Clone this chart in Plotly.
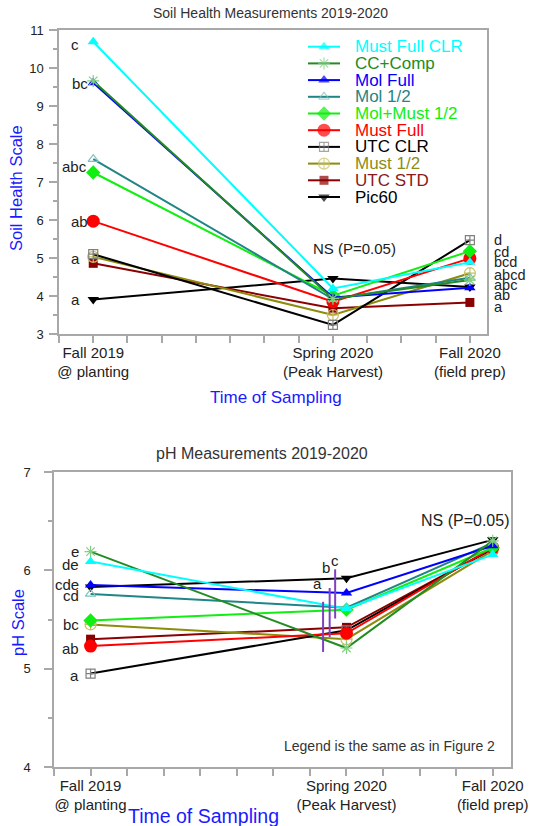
import plotly.graph_objects as go

W, H = 537, 826

# ---------------- data ----------------
months = [0, 7, 11]
time_ticks = [-1, 0, 1, 2, 3, 4, 5, 6, 7, 8, 9, 10, 11]
time_labels = {0: "Fall 2019<br>@ planting", 7: "Spring 2020<br>(Peak Harvest)", 11: "Fall 2020<br>(field prep)"}

series = ["Must Full CLR", "CC+Comp", "Mol Full", "Mol 1/2", "Mol+Must 1/2",
          "Must Full", "UTC CLR", "Must 1/2", "UTC STD", "Pic60"]

soil_health = {
    "Must Full CLR": [10.69, 4.20, 4.89],
    "CC+Comp":       [9.66, 3.93, 4.42],
    "Mol Full":      [9.61, 3.96, 4.22],
    "Mol 1/2":       [7.60, 3.92, 4.48],
    "Mol+Must 1/2":  [7.25, 4.01, 5.18],
    "Must Full":     [5.97, 3.85, 4.99],
    "UTC CLR":       [5.10, 3.24, 5.47],
    "Must 1/2":      [5.03, 3.50, 4.60],
    "UTC STD":       [4.86, 3.68, 3.83],
    "Pic60":         [3.91, 4.46, 4.24],
}

ph = {
    "Must Full CLR": [6.09, 5.61, 6.16],
    "CC+Comp":       [6.19, 5.21, 6.30],
    "Mol Full":      [5.85, 5.77, 6.25],
    "Mol 1/2":       [5.76, 5.62, 6.28],
    "Mol+Must 1/2":  [5.49, 5.60, 6.23],
    "Must Full":     [5.23, 5.36, 6.23],
    "UTC CLR":       [4.95, 5.39, 6.22],
    "Must 1/2":      [5.45, 5.30, 6.20],
    "UTC STD":       [5.30, 5.42, 6.22],
    "Pic60":         [5.83, 5.92, 6.31],
}

# significance letters
sh_left_letters = ["c", "bc", "abc", "ab", "a", "a"]
sh_left_x = [-0.52, -0.38, -0.55, -0.41, -0.52, -0.52]
sh_left_y = [10.63, 9.60, 7.42, 5.97, 5.00, 3.90]
sh_right_letters = ["d", "cd", "bcd", "abcd", "abc", "ab", "a"]
sh_right_y = [5.47, 5.17, 4.90, 4.55, 4.29, 4.03, 3.72]

ph_left_letters = ["e", "de", "cde", "cd", "bc", "ab", "a"]
ph_left_y = [6.19, 6.06, 5.86, 5.74, 5.45, 5.21, 4.93]
ph_spring_letters = ["a", "b", "c"]
ph_spring_x = [6.22, 6.44, 6.69]
ph_spring_y = [5.87, 6.03, 6.10]
ph_bar_x = [6.36, 6.54, 6.69]
ph_bar_lo = [5.17, 5.32, 5.51]
ph_bar_hi = [5.68, 5.82, 6.01]

# ---------------- styles ----------------
style = {
    "Must Full CLR": dict(line="#00FFFF", sym="triangle-up", mc="#00FFFF", ms=10, text="#00FFFF"),
    "CC+Comp":       dict(line="#238B23", sym="asterisk-open", mc="#80D080", ms=10, text="#238B23"),
    "Mol Full":      dict(line="#0000FF", sym="triangle-up", mc="#0000FF", ms=10, text="#0000FF"),
    "Mol 1/2":       dict(line="#1F8585", sym="triangle-up-open", mc="#80C0C0", ms=9, text="#1F8585"),
    "Mol+Must 1/2":  dict(line="#11EE11", sym="diamond", mc="#11EE11", ms=11, text="#11EE11"),
    "Must Full":     dict(line="#FF0000", sym="circle", mc="#FF0000", ms=13, text="#FF0000"),
    "UTC CLR":       dict(line="#000000", sym="square-cross-open", mc="#808080", ms=9, text="#000000"),
    "Must 1/2":      dict(line="#8C8C0A", sym="circle-cross-open", mc="#C8C060", ms=11, text="#8C8C1A"),
    "UTC STD":       dict(line="#8B0000", sym="square", mc="#8B0000", ms=9, text="#8B1A1A"),
    "Pic60":         dict(line="#000000", sym="triangle-down", mc="#000000", ms=10, text="#000000"),
}

FONT = "Liberation Sans, Arial, sans-serif"
AXC = "#A8A8A8"
BLUE = "#1A1AFF"

fig = go.Figure()

def add_series(data, xa, ya):
    for name in reversed(series):
        s = style[name]
        open_sym = s["sym"].endswith("open")
        fig.add_trace(go.Scatter(
            x=months, y=data[name], xaxis=xa, yaxis=ya, mode="lines+markers",
            name=name, showlegend=False, cliponaxis=False,
            line=dict(color=s["line"], width=2),
            marker=dict(symbol=s["sym"], size=s["ms"], color=s["mc"],
                        line=dict(color=s["mc"], width=1.2 if open_sym else 0)),
        ))

add_series(soil_health, "x", "y")
add_series(ph, "x2", "y2")

# legend drawn with an overlay pixel axis (x3/y3)
leg_y0, leg_dy = 46.7, 16.7
leg_x = [308, 324, 340]
for i, name in enumerate(series):
    s = style[name]
    ry = leg_y0 + leg_dy * i
    open_sym = s["sym"].endswith("open")
    fig.add_trace(go.Scatter(
        x=leg_x, y=[ry] * 3, xaxis="x3", yaxis="y3", mode="lines+markers",
        showlegend=False, cliponaxis=False, hoverinfo="skip",
        line=dict(color=s["line"], width=2),
        marker=dict(symbol=s["sym"], size=[0, s["ms"], 0], color=s["mc"],
                    line=dict(color=s["mc"], width=1.2 if open_sym else 0)),
    ))

annotations = []
for i, name in enumerate(series):
    annotations.append(dict(x=353, y=leg_y0 + leg_dy * i, xref="x3", yref="y3",
                            text=name, showarrow=False, xanchor="left", yanchor="middle",
                            font=dict(family=FONT, size=17, color=style[name]["text"])))

def txt(x, y, t, xref, yref, size=15, color="#222222", xanchor="center", angle=0):
    annotations.append(dict(x=x, y=y, xref=xref, yref=yref, text=t, showarrow=False,
                            xanchor=xanchor, yanchor="middle", textangle=angle,
                            font=dict(family=FONT, size=size, color=color)))

# titles and axis titles (pixel overlay)
txt(270, 13, "Soil Health Measurements 2019-2020", "x3", "y3", size=14, color="#333333")
txt(16, 188, "Soil Health Scale", "x3", "y3", size=16.5, color=BLUE, angle=-90)
txt(276, 397, "Time of Sampling", "x3", "y3", size=17, color=BLUE)
txt(262, 453, "pH Measurements 2019-2020", "x3", "y3", size=16, color="#333333")
txt(18, 623, "pH Scale", "x3", "y3", size=16.5, color=BLUE, angle=-90)
txt(203, 816, "Time of Sampling", "x3", "y3", size=19.5, color=BLUE)

# significance letters
for t, x, y in zip(sh_left_letters, sh_left_x, sh_left_y):
    txt(x, y, t, "x", "y")
for t, y in zip(sh_right_letters, sh_right_y):
    txt(1.012, y, t, "x domain", "y", size=14.5, xanchor="left")
txt(7.64, 5.24, "NS (P=0.05)", "x", "y")

for t, y in zip(ph_left_letters, ph_left_y):
    txt(-0.25, y, t, "x2", "y2", xanchor="right")
for t, x, y in zip(ph_spring_letters, ph_spring_x, ph_spring_y):
    txt(x, y, t, "x2", "y2")
txt(10.23, 6.51, "NS (P=0.05)", "x2", "y2", size=16)
txt(8.19, 4.21, "Legend is the same as in Figure 2", "x2", "y2", size=14, color="#333333")

shapes = []
for x, lo, hi in zip(ph_bar_x, ph_bar_lo, ph_bar_hi):
    shapes.append(dict(type="line", x0=x, x1=x, y0=lo, y1=hi, xref="x2", yref="y2",
                       line=dict(color="#8040C0", width=2)))

tick_text = [time_labels.get(v, "") for v in time_ticks]

common_x = dict(range=[-1, 11.5], tickmode="array", tickvals=time_ticks, ticktext=tick_text,
                ticks="outside", ticklen=7, tickcolor=AXC, tickwidth=1.5,
                showline=True, linecolor=AXC, linewidth=1.5, mirror=True,
                showgrid=False, zeroline=False, fixedrange=True, automargin=False,
                ticklabelstandoff=-3,
                tickfont=dict(family=FONT, size=15, color="#222222"))
common_y = dict(ticks="outside", ticklen=8, tickcolor=AXC, tickwidth=1.5,
                showline=True, linecolor=AXC, linewidth=1.5, mirror=True,
                showgrid=False, zeroline=False, fixedrange=True, dtick=1, automargin=False,
                minor=dict(dtick=0.5, ticks="outside", ticklen=4, tickcolor=AXC, tickwidth=1.5),
                tickfont=dict(family=FONT, size=13, color="#222222"))

fig.update_layout(
    width=W, height=H, margin=dict(l=0, r=0, t=0, b=0, pad=0, autoexpand=False),
    paper_bgcolor="white", plot_bgcolor="rgba(0,0,0,0)", showlegend=False,
    xaxis=dict(domain=[59 / W, 487 / W], anchor="y", **common_x),
    yaxis=dict(domain=[1 - 334 / H, 1 - 30 / H], anchor="x", range=[3, 11],
               ticklabelstandoff=3, **common_y),
    xaxis2=dict(domain=[54 / W, 511 / W], anchor="y2", **common_x),
    yaxis2=dict(domain=[1 - 767 / H, 1 - 472 / H], anchor="x2", range=[4, 7],
                ticklabelstandoff=11, **common_y),
    xaxis3=dict(domain=[0, 1], range=[0, W], anchor="y3", visible=False, fixedrange=True),
    yaxis3=dict(domain=[0, 1], range=[H, 0], anchor="x3", visible=False, fixedrange=True),
    annotations=annotations, shapes=shapes,
)

fig.write_html("out.html", config={"displayModeBar": False},
               post_script="document.body.style.margin='0px';document.body.style.overflow='hidden';")
